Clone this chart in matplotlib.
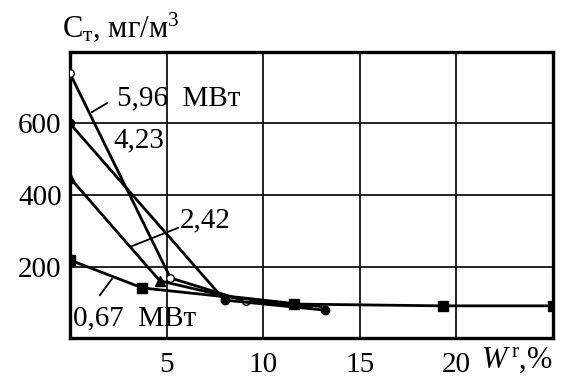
import matplotlib
matplotlib.use("Agg")
import matplotlib.pyplot as plt

plt.rcParams["font.family"] = ["Liberation Serif", "DejaVu Serif"]
plt.rcParams["mathtext.fontset"] = "custom"
plt.rcParams["mathtext.rm"] = "Liberation Serif"
plt.rcParams["mathtext.it"] = "Liberation Serif:italic"

# W^r, %  vs  C_t, mg/m3 for four boiler loads
x_596 = [0, 5.2, 9.1, 12.5]
y_596 = [740, 168, 103, 88]

x_423 = [0, 8.0, 13.2]
y_423 = [600, 106, 78]

x_242 = [0, 4.65, 8.0, 13.0]
y_242 = [448, 160, 118, 88]

x_067 = [0, 3.75, 11.6, 19.3, 25.0]
y_067 = [218, 140, 95, 90, 90]

x_ticks = [5, 10, 15, 20]
y_ticks = [200, 400, 600]

fig = plt.figure(figsize=(5.76, 3.85), dpi=100)
ax = fig.add_axes([0.1215, 0.122, 0.8385, 0.743])

ax.plot(x_596, y_596, color="black", lw=2.0, marker="o", ms=5.5,
        mfc="white", mec="black", mew=1.0, markevery=[0, 1, 2], zorder=3)
ax.plot(x_423, y_423, color="black", lw=2.0, marker="o", ms=6,
        mfc="black", mec="black", zorder=3)
ax.plot(x_242, y_242, color="black", lw=2.0, marker="^", ms=6.5,
        mfc="black", mec="black", markevery=[0, 1], zorder=3)
ax.plot(x_067, y_067, color="black", lw=2.0, marker="s", ms=7,
        mfc="black", mec="black", zorder=3)

ax.set_xlim(0, 25)
ax.set_ylim(0, 800)
ax.set_xticks(x_ticks)
ax.set_yticks(y_ticks)
ax.grid(True, color="black", lw=1.2)
ax.set_axisbelow(True)
ax.tick_params(length=0, labelsize=21)
ax.tick_params(axis="x", pad=10)
ax.tick_params(axis="y", pad=6)
for s in ax.spines.values():
    s.set_linewidth(2.4)

# curve labels with leader lines
ax.text(2.43, 671, "5,96  МВт", fontsize=21, va="center")
ax.plot([1.14, 1.92], [632, 657], color="black", lw=1.3)
ax.text(2.23, 554, "4,23", fontsize=21, va="center")
ax.text(5.69, 330, "2,42", fontsize=21, va="center")
ax.plot([3.11, 5.59], [255, 308], color="black", lw=1.3)
ax.text(0.16, 56, "0,67  МВт", fontsize=21, va="center")
ax.plot([1.55, 2.17], [120, 165], color="black", lw=1.3)

# axis titles
fig.text(0.107, 0.905, r"С$_{\mathrm{т}}$, мг/м$^{3}$", fontsize=22,
         ha="left", va="baseline")
ax.text(21.3, -62, r"$\mathit{W}^{\,\mathrm{r}}$,%", fontsize=22,
        ha="left", va="center")

fig.savefig("out.png", dpi=100)
